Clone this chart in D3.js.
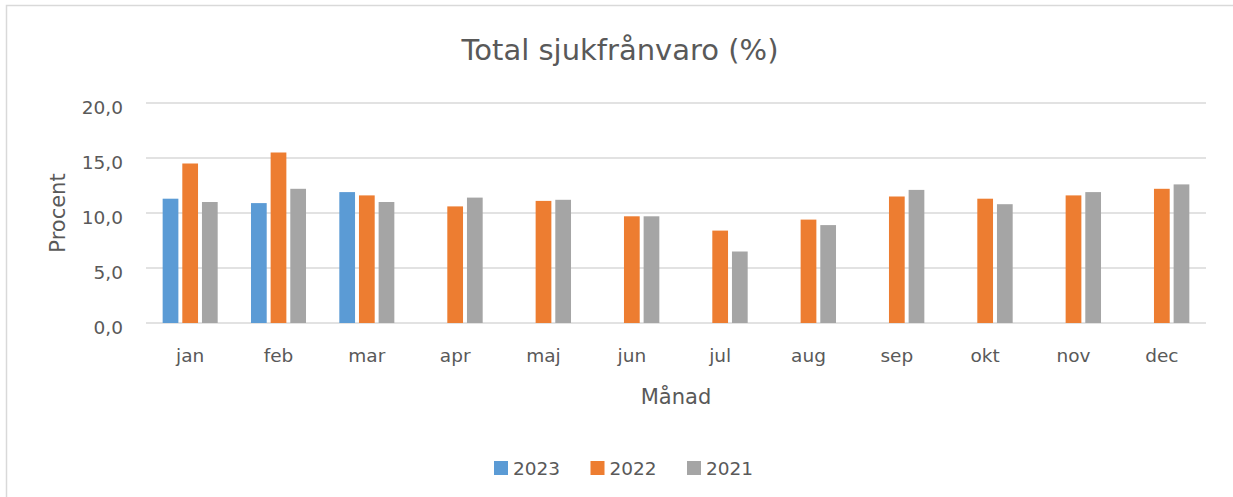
<!DOCTYPE html>
<html>
<head>
<meta charset="utf-8">
<script src="https://cdn.jsdelivr.net/npm/d3@7"></script>
<style>
  html, body { margin: 0; padding: 0; background: #fff; }
  svg text { font-family: "DejaVu Sans", sans-serif; fill: #595959; }
</style>
</head>
<body>
<div id="chart"></div>
<script>
// --- DATOS ---
const months = ["jan", "feb", "mar", "apr", "maj", "jun", "jul", "aug", "sep", "okt", "nov", "dec"];
const seriesNames = ["2023", "2022", "2021"];
const values2023 = [11.3, 10.9, 11.9, null, null, null, null, null, null, null, null, null];
const values2022 = [14.5, 15.5, 11.6, 10.6, 11.1, 9.7, 8.4, 9.4, 11.5, 11.3, 11.6, 12.2];
const values2021 = [11.0, 12.2, 11.0, 11.4, 11.2, 9.7, 6.5, 8.9, 12.1, 10.8, 11.9, 12.6];
const yTicks = [0, 5, 10, 15, 20];
const colors = ["#5B9BD5", "#ED7D31", "#A5A5A5"];

// --- CONFIGURACIÓN ---
const W = 1233, H = 497;
const plot = { left: 146, right: 1206, top: 103, bottom: 323 };

const svg = d3.select("#chart").append("svg")
    .attr("width", W)
    .attr("height", H);

// marco del gráfico
svg.append("rect")
    .attr("x", 6.5).attr("y", 5.5)
    .attr("width", 1240).attr("height", 520)
    .attr("fill", "#fff")
    .attr("stroke", "#D9D9D9")
    .attr("stroke-width", 1.5);

const x = d3.scaleBand()
    .domain(months)
    .range([plot.left, plot.right])
    .padding(0);

const groupWidth = x.bandwidth() * 0.623;
const xInner = d3.scaleBand()
    .domain(seriesNames)
    .range([0, groupWidth])
    .paddingInner(0.2)
    .paddingOuter(0);

const y = d3.scaleLinear()
    .domain([0, 20])
    .range([plot.bottom, plot.top]);

// líneas de cuadrícula
svg.append("g")
    .selectAll("line")
    .data(yTicks)
    .join("line")
    .attr("x1", plot.left)
    .attr("x2", plot.right)
    .attr("y1", d => y(d))
    .attr("y2", d => y(d))
    .attr("stroke", "#D9D9D9")
    .attr("stroke-width", 1.5);

// eje Y (solo etiquetas)
const yAxis = svg.append("g")
    .attr("transform", `translate(${plot.left - 23},0)`)
    .call(d3.axisLeft(y).tickValues(yTicks).tickSize(0).tickPadding(0)
        .tickFormat(d => d3.format(".1f")(d).replace(".", ",")));
yAxis.select(".domain").remove();
yAxis.selectAll("text")
    .attr("dy", "0.32em")
    .attr("transform", "translate(0,5)")
    .style("font-size", "18.5px")
    .attr("fill", "#595959");

// eje X (solo etiquetas)
const xAxis = svg.append("g")
    .attr("transform", `translate(0,${plot.bottom})`)
    .call(d3.axisBottom(x).tickSize(0).tickPadding(0));
xAxis.select(".domain").remove();
xAxis.selectAll("text")
    .attr("y", 39)
    .attr("dy", 0)
    .style("font-size", "18.5px")
    .attr("fill", "#595959");

// barras
const series = [values2023, values2022, values2021];
const barData = [];
series.forEach((vals, si) => {
    vals.forEach((v, mi) => {
        if (v !== null) barData.push({ month: months[mi], series: seriesNames[si], value: v, color: colors[si] });
    });
});

svg.append("g")
    .selectAll("rect")
    .data(barData)
    .join("rect")
    .attr("x", d => x(d.month) + (x.bandwidth() - groupWidth) / 2 + xInner(d.series))
    .attr("y", d => y(d.value))
    .attr("width", xInner.bandwidth())
    .attr("height", d => y(0) - y(d.value))
    .attr("fill", d => d.color);

// títulos
svg.append("text")
    .attr("x", 620).attr("y", 60)
    .attr("text-anchor", "middle")
    .style("font-size", "29px")
    .text("Total sjukfrånvaro (%)");

svg.append("text")
    .attr("x", (plot.left + plot.right) / 2).attr("y", 404)
    .attr("text-anchor", "middle")
    .style("font-size", "21px")
    .text("Månad");

svg.append("text")
    .attr("transform", `translate(65,${(plot.top + plot.bottom) / 2}) rotate(-90)`)
    .attr("text-anchor", "middle")
    .style("font-size", "21px")
    .text("Procent");

// leyenda
const legend = svg.append("g")
    .selectAll("g")
    .data(seriesNames)
    .join("g")
    .attr("transform", (d, i) => `translate(${494 + i * 96.5},461)`);

legend.append("rect")
    .attr("width", 14).attr("height", 14)
    .attr("fill", (d, i) => colors[i]);

legend.append("text")
    .attr("x", 19).attr("y", 14)
    .style("font-size", "18.5px")
    .text(d => d);
</script>
</body>
</html>
